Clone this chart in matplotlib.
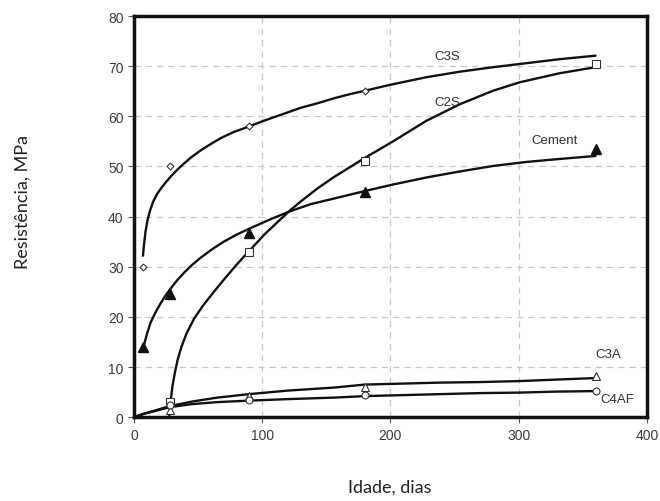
import numpy as np
import matplotlib
matplotlib.use("Agg")
import matplotlib.pyplot as plt

# Pontos medidos (idade em dias, resistencia em MPa)
idade_c3s = [7, 28, 90, 180, 360]
res_c3s = [30, 50, 58, 65, 70.5]
idade_c2s = [28, 90, 180, 360]
res_c2s = [3, 33, 51, 70.5]
idade_cem = [7, 28, 90, 180, 360]
res_cem = [14, 24.5, 36.8, 45, 53.5]
idade_c3a = [28, 90, 180, 360]
res_c3a = [1.5, 4.2, 6, 8.2]
idade_c4af = [28, 90, 180, 360]
res_c4af = [2.5, 3.5, 4.5, 5.2]

# Curvas ajustadas
curva_c3s_x = [7, 8, 9, 10.5, 12.5, 15, 18, 21, 25, 29, 34, 39, 45, 52, 60, 68,
               78, 90, 100, 110, 120, 130, 143, 156, 168, 180, 200, 228, 254,
               280, 306, 332, 360]
curva_c3s_y = [32.2, 34.8, 37.0, 39.2, 41.2, 43.0, 44.5, 45.6, 46.9, 48.1, 49.4,
               50.6, 51.9, 53.2, 54.5, 55.7, 56.9, 58.0, 59.0, 59.9, 60.8, 61.7,
               62.6, 63.6, 64.4, 65.1, 66.3, 67.8, 68.9, 69.8, 70.6, 71.4, 72.1]
curva_c2s_x = [27.5, 28.5, 30, 32, 34, 37, 41, 47, 54, 62, 70, 80, 90, 102, 114,
               122, 130, 143, 156, 168, 180, 202, 228, 254, 280, 301, 332, 360]
curva_c2s_y = [0.0, 3.0, 6.2, 9.0, 11.4, 14.0, 16.7, 19.7, 22.3, 24.9, 27.4, 30.4,
               33.2, 36.5, 39.4, 41.3, 43.0, 45.6, 47.9, 49.8, 51.7, 55.0, 59.1,
               62.4, 65.1, 66.8, 68.6, 69.8]
curva_cem_x = [7, 10, 13, 17, 21, 25, 29, 34, 39, 45, 52, 61, 70, 80, 90, 104,
               121, 138, 156, 180, 202, 228, 254, 280, 306, 332, 360]
curva_cem_y = [13.6, 16.5, 18.9, 21.0, 22.8, 24.4, 25.8, 27.4, 28.8, 30.3, 31.8,
               33.5, 35.0, 36.4, 37.6, 39.2, 41.0, 42.5, 43.6, 45.1, 46.4, 47.8,
               49.0, 50.1, 50.9, 51.5, 52.1]
curva_c3a_x = [0, 8, 16, 28, 45, 65, 90, 120, 156, 180, 210, 240, 270, 301, 330,
               360]
curva_c3a_y = [0.0, 0.7, 1.3, 2.2, 3.1, 3.9, 4.6, 5.3, 5.9, 6.5, 6.7, 6.9, 7.0,
               7.2, 7.5, 7.8]
curva_c4af_x = [0, 8, 16, 28, 45, 65, 90, 120, 156, 180, 210, 240, 270, 301, 330,
                360]
curva_c4af_y = [0.0, 0.7, 1.2, 2.0, 2.6, 3.0, 3.3, 3.6, 3.9, 4.2, 4.4, 4.6, 4.8,
                4.9, 5.1, 5.2]

rotulos = ["C3S", "C2S", "Cement", "C3A", "C4AF"]
rotulo_x = [244, 244, 328, 370, 377]
rotulo_y = [72.1, 62.9, 55.3, 12.6, 3.6]

fig = plt.figure(figsize=(6.6, 5.02), dpi=100)
ax = fig.add_axes([0.203, 0.167, 0.777, 0.799])

lw = 1.7
for cx, cy in [(curva_c3s_x, curva_c3s_y), (curva_c2s_x, curva_c2s_y),
               (curva_cem_x, curva_cem_y), (curva_c3a_x, curva_c3a_y),
               (curva_c4af_x, curva_c4af_y)]:
    ax.plot(cx, cy, color="#111111", lw=lw, zorder=3,
            solid_capstyle="round", solid_joinstyle="round")

ax.plot(idade_c3s, res_c3s, ls="none", marker="D", ms=3.5, mfc="white",
        mec="#333333", mew=0.8, zorder=4)
ax.plot(idade_c2s, res_c2s, ls="none", marker="s", ms=6, mfc="white",
        mec="#333333", mew=0.8, zorder=4)
ax.plot(idade_cem, res_cem, ls="none", marker="^", ms=7, color="#111111", zorder=4)
ax.plot(idade_c3a, res_c3a, ls="none", marker="^", ms=6, mfc="white",
        mec="#333333", mew=0.8, zorder=4)
ax.plot(idade_c4af, res_c4af, ls="none", marker="o", ms=5, mfc="white",
        mec="#333333", mew=0.8, zorder=4)

for txt, tx, ty in zip(rotulos, rotulo_x, rotulo_y):
    ax.text(tx, ty, txt, ha="center", va="center", fontsize=9.5,
            family="Liberation Sans", color="#303040")

ax.set_xlim(0, 400)
ax.set_ylim(0, 80)
ax.set_xticks([0, 100, 200, 300, 400])
ax.set_yticks(np.arange(0, 81, 10))
ax.grid(True, ls=(0, (5, 4)), color="#c8c8c8", lw=0.9)
ax.set_axisbelow(True)
for s in ax.spines.values():
    s.set_linewidth(2.5)
    s.set_color("#111111")
ax.tick_params(direction="out", length=4, width=0.8, color="#555555",
               labelsize=10, labelcolor="#3a3a4a")
for lab in ax.get_xticklabels() + ax.get_yticklabels():
    lab.set_family("Liberation Sans")

fig.text(0.035, 0.598, "Resistência, MPa", rotation=90, ha="center", va="center",
         fontsize=13, family="Lato", color="#222222")
fig.text(0.591, 0.028, "Idade, dias", ha="center", va="center",
         fontsize=13, family="Lato", color="#222222")

fig.savefig("out.png", dpi=100, facecolor="white")
